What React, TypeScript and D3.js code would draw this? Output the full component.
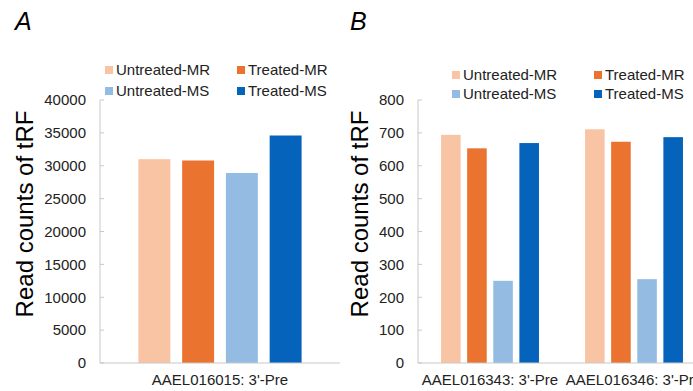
import React from "react";
import * as d3 from "d3";

// Series (legend order) and colours
const seriesNames = ["Untreated-MR", "Treated-MR", "Untreated-MS", "Treated-MS"];
const seriesColors = ["#F8C4A3", "#EB7330", "#94BCE3", "#0563BB"];

// Panel A
const categoriesA = ["AAEL016015: 3'-Pre"];
const valuesA = [[31000], [30800], [28900], [34600]];
const ticksA = [0, 5000, 10000, 15000, 20000, 25000, 30000, 35000, 40000];

// Panel B
const categoriesB = ["AAEL016343: 3'-Pre", "AAEL016346: 3'-Pre"];
const valuesB = [
  [694, 711],
  [653, 673],
  [250, 255],
  [669, 687],
];
const ticksB = [0, 100, 200, 300, 400, 500, 600, 700, 800];

const FONT = "'Liberation Sans', Arial, sans-serif";

type PanelProps = {
  letter: string;
  letterX: number;
  titleX: number;
  axisX: number;
  axisEnd: number;
  categories: string[];
  values: number[][];
  ticks: number[];
  legendX: number[];
  legendY: number[];
  barPad: number;
};

function Panel(p: PanelProps) {
  const top = 100;
  const bottom = 363;
  const y = d3.scaleLinear().domain([0, d3.max(p.ticks) as number]).range([bottom, top]);
  const x0 = d3.scaleBand<string>().domain(p.categories).range([p.axisX, p.axisEnd]);
  const inner = x0.bandwidth() * 0.68;
  const x1 = d3
    .scaleBand<string>()
    .domain(seriesNames)
    .range([0, inner])
    .paddingInner(p.barPad);

  return (
    <g>
      <text x={p.letterX} y={30} fontSize={25} fontStyle="italic" fontFamily={FONT}>
        {p.letter}
      </text>
      <text
        transform={`translate(${p.titleX},214) rotate(-90)`}
        textAnchor="middle"
        fontSize={24}
        fontFamily={FONT}
        fill="#000"
      >
        Read counts of tRF
      </text>
      {/* legend */}
      {seriesNames.map((s, i) => {
        const lx = p.legendX[i % 2];
        const ly = p.legendY[Math.floor(i / 2)];
        return (
          <g key={s}>
            <rect x={lx} y={ly - 4} width={8} height={8} fill={seriesColors[i]} />
            <text x={lx + 11} y={ly} dy="0.35em" fontSize={15} fontFamily={FONT} fill="#222">
              {s}
            </text>
          </g>
        );
      })}
      {/* y axis */}
      <line x1={p.axisX} x2={p.axisX} y1={top} y2={bottom} stroke="#c8c8c8" />
      {p.ticks.map((t) => (
        <g key={t}>
          <line x1={p.axisX} x2={p.axisX + 4} y1={y(t)} y2={y(t)} stroke="#c8c8c8" />
          <text
            x={p.axisX - 14}
            y={y(t)}
            dy="0.35em"
            textAnchor="end"
            fontSize={15}
            fontFamily={FONT}
            fill="#222"
          >
            {t}
          </text>
        </g>
      ))}
      {/* bars */}
      {p.categories.map((c, ci) => {
        const gx = (x0(c) as number) + (x0.bandwidth() - inner) / 2;
        return (
          <g key={c}>
            {seriesNames.map((s, si) => (
              <rect
                key={s}
                x={gx + (x1(s) as number)}
                y={y(p.values[si][ci])}
                width={x1.bandwidth()}
                height={bottom - y(p.values[si][ci])}
                fill={seriesColors[si]}
              />
            ))}
            <text
              x={(x0(c) as number) + x0.bandwidth() / 2}
              y={385}
              textAnchor="middle"
              fontSize={15}
              fontFamily={FONT}
              fill="#222"
            >
              {c}
            </text>
          </g>
        );
      })}
      {/* x axis */}
      <line x1={p.axisX} x2={p.axisEnd} y1={bottom} y2={bottom} stroke="#c8c8c8" />
    </g>
  );
}

export default function App() {
  return (
    <svg
      width={693}
      height={391}
      style={{ position: "absolute", left: 0, top: 0, background: "#fff" }}
    >
      <rect width={693} height={391} fill="#fff" />
      <Panel
        letter="A"
        letterX={15}
        titleX={33}
        axisX={100}
        axisEnd={340}
        categories={categoriesA}
        values={valuesA}
        ticks={ticksA}
        legendX={[105, 237]}
        legendY={[70, 91]}
        barPad={0.27}
      />
      <Panel
        letter="B"
        letterX={350}
        titleX={368}
        axisX={418}
        axisEnd={706}
        categories={categoriesB}
        values={valuesB}
        ticks={ticksB}
        legendX={[452, 594]}
        legendY={[75, 94]}
        barPad={0.25}
      />
    </svg>
  );
}
